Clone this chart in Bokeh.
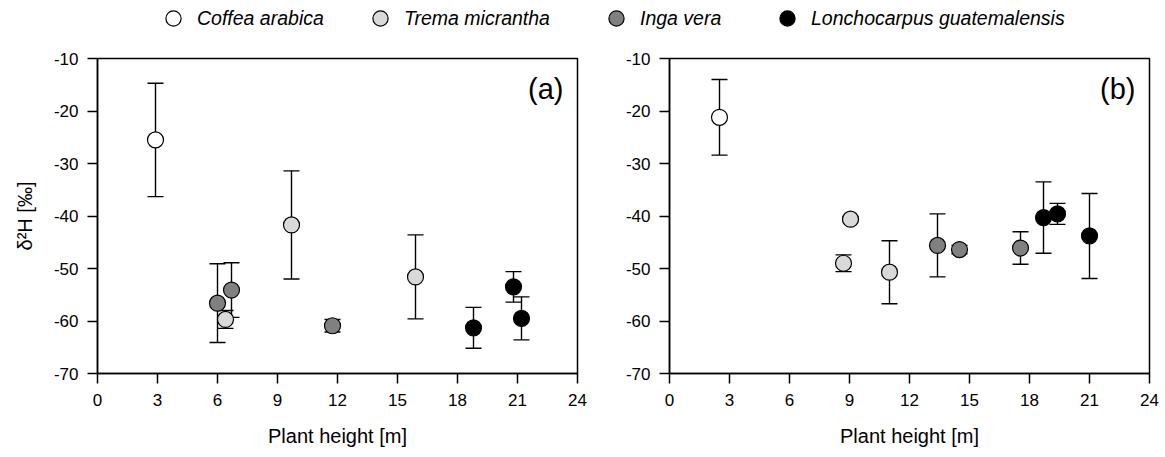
from bokeh.plotting import figure
from bokeh.models import (ColumnDataSource, Whisker, TeeHead, Range1d, FixedTicker,
                          Legend, LegendItem, Label)
from bokeh.layouts import row, column
from bokeh.embed import file_html
from bokeh.resources import INLINE

# ---------------- data ----------------
species = ["Coffea arabica", "Trema micrantha", "Inga vera", "Lonchocarpus guatemalensis"]
colors = ["#ffffff", "#d9d9d9", "#808080", "#000000"]

x_ticks = [0, 3, 6, 9, 12, 15, 18, 21, 24]
y_ticks = [-70, -60, -50, -40, -30, -20, -10]

# panel (a)
coffea_a_x = [2.9]
coffea_a_y = [-25.5]
coffea_a_err = [10.8]
trema_a_x = [6.4, 9.7, 15.9]
trema_a_y = [-59.7, -41.7, -51.6]
trema_a_err = [1.7, 10.3, 8.0]
inga_a_x = [6.0, 6.7, 11.75]
inga_a_y = [-56.6, -54.1, -60.9]
inga_a_err = [7.5, 5.2, 1.2]
lon_a_x = [18.8, 20.8, 21.2]
lon_a_y = [-61.3, -53.5, -59.5]
lon_a_err = [3.9, 2.9, 4.1]

# panel (b)
coffea_b_x = [2.5]
coffea_b_y = [-21.2]
coffea_b_err = [7.2]
trema_b_x = [8.7, 9.05, 11.0]
trema_b_y = [-49.0, -40.6, -50.7]
trema_b_err = [1.6, 0.4, 6.0]
inga_b_x = [13.4, 14.5, 17.55]
inga_b_y = [-45.6, -46.4, -46.1]
inga_b_err = [6.0, 0.8, 3.1]
lon_b_x = [18.7, 19.4, 21.0]
lon_b_y = [-40.3, -39.6, -43.8]
lon_b_err = [6.8, 2.0, 8.1]

panel_a = [(coffea_a_x, coffea_a_y, coffea_a_err),
           (trema_a_x, trema_a_y, trema_a_err),
           (inga_a_x, inga_a_y, inga_a_err),
           (lon_a_x, lon_a_y, lon_a_err)]
panel_b = [(coffea_b_x, coffea_b_y, coffea_b_err),
           (trema_b_x, trema_b_y, trema_b_err),
           (inga_b_x, inga_b_y, inga_b_err),
           (lon_b_x, lon_b_y, lon_b_err)]

FONT = "Liberation Sans"
MARKER_KW = dict(size=16, marker="circle", line_color="black", line_width=1.2)


def make_panel(data, width, left, right, tag, ylabel):
    p = figure(width=width, height=417, x_range=Range1d(0, 24), y_range=Range1d(-70, -10),
               output_backend="svg", toolbar_location=None,
               min_border_left=left, min_border_right=right,
               min_border_top=18, min_border_bottom=84)
    p.xgrid.visible = False
    p.ygrid.visible = False
    p.outline_line_color = "black"
    p.outline_line_width = 1.5
    p.outline_line_alpha = 1.0
    p.background_fill_color = "white"
    p.border_fill_color = "white"

    for ax in (p.xaxis[0], p.yaxis[0]):
        ax.axis_line_color = "black"
        ax.axis_line_width = 1.5
        ax.major_tick_line_color = "black"
        ax.major_tick_line_width = 1.5
        ax.major_tick_in = 0
        ax.major_tick_out = 10
        ax.minor_tick_line_color = None
        ax.major_label_text_font = FONT
        ax.major_label_text_font_size = "17px"
        ax.major_label_text_color = "black"
        ax.axis_label_text_font = FONT
        ax.axis_label_text_font_style = "normal"
        ax.axis_label_text_color = "black"
    p.xaxis.ticker = FixedTicker(ticks=x_ticks)
    p.yaxis.ticker = FixedTicker(ticks=y_ticks)
    p.yaxis.major_label_overrides = {t: str(t) for t in y_ticks}
    p.xaxis.major_label_standoff = 10
    p.yaxis.major_label_standoff = 9
    p.xaxis.axis_label = "Plant height [m]"
    p.xaxis.axis_label_text_font_size = "20px"
    p.xaxis.axis_label_standoff = 16
    if ylabel:
        p.yaxis.axis_label = "\u03b4\u00b2H [\u2030]"
        p.yaxis.axis_label_text_font_size = "20px"
        p.yaxis.axis_label_standoff = 15

    for (xs, ys, es), col in zip(data, colors):
        src = ColumnDataSource(dict(x=xs, y=ys,
                                    upper=[a + b for a, b in zip(ys, es)],
                                    lower=[a - b for a, b in zip(ys, es)]))
        w = Whisker(base="x", upper="upper", lower="lower", source=src,
                    line_color="black", line_width=1.4,
                    upper_head=TeeHead(size=16, line_color="black", line_width=1.4),
                    lower_head=TeeHead(size=16, line_color="black", line_width=1.4))
        p.add_layout(w)
        p.scatter("x", "y", source=src, fill_color=col, **MARKER_KW)

    p.add_layout(Label(x=23.3, y=-15.9, text=tag, text_align="right",
                       text_baseline="middle", text_font=FONT,
                       text_font_size="29px", text_color="black"))
    return p


p1 = make_panel(panel_a, 600, 97, 23, "(a)", True)
p2 = make_panel(panel_b, 565, 69, 16, "(b)", False)

# legend strip across the top (proxy renderers hold the panel (a) data, which
# lies outside this strip's ranges, so only the legend glyphs are visible)
lg = figure(width=1165, height=40, x_range=Range1d(100, 101), y_range=Range1d(100, 101),
            output_backend="svg", toolbar_location=None,
            x_axis_type=None, y_axis_type=None,
            min_border_left=0, min_border_right=0, min_border_top=0, min_border_bottom=0)
lg.outline_line_color = None
lg.xgrid.visible = False
lg.ygrid.visible = False
legend_offsets = [154, 361, 597, 768]
for name, col, off, (xs, ys, es) in zip(species, colors, legend_offsets, panel_a):
    r = lg.scatter(x=xs, y=ys, fill_color=col, **MARKER_KW)
    leg = Legend(items=[LegendItem(label=name, renderers=[r])],
                 location=(off, 3), orientation="horizontal",
                 glyph_width=38, glyph_height=38, label_height=38,
                 label_standoff=5, padding=0, margin=0, spacing=0,
                 background_fill_alpha=0, border_line_alpha=0,
                 label_text_font=FONT, label_text_font_style="italic",
                 label_text_font_size="19.5px", label_text_color="black")
    lg.add_layout(leg)

layout = column(lg, row(p1, p2), spacing=0)
open("out.html", "w").write(file_html(layout, INLINE))
